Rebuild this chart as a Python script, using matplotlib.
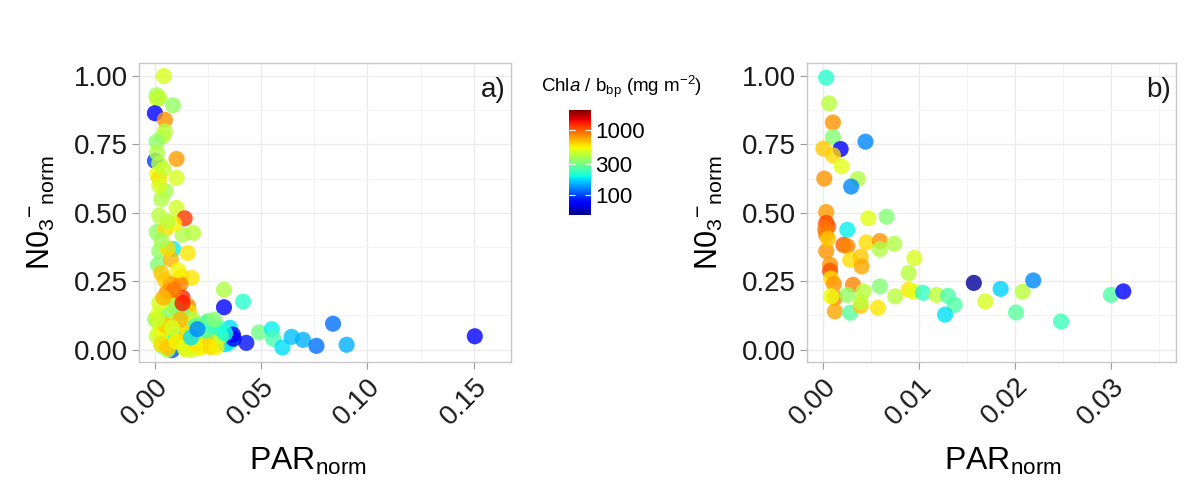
import matplotlib
matplotlib.use('Agg')
import matplotlib.pyplot as plt
from matplotlib.colors import LogNorm
from matplotlib.ticker import MultipleLocator

plt.rcParams['font.family'] = ['Liberation Sans', 'DejaVu Sans']
plt.rcParams['mathtext.fontset'] = 'custom'
plt.rcParams['mathtext.rm'] = 'Liberation Sans'
plt.rcParams['mathtext.it'] = 'Liberation Sans:italic'

# panel a) PAR_norm, NO3_norm, Chla/bbp
par_a = [0.0042, 0.0008, 0.0010, 0.0085, 0.0000, 0.0047, 0.0047, 0.0038, 0.0008, 0.0102,
         0.0000, 0.0020, 0.0010, 0.0020, 0.0102, 0.0050, 0.0030, 0.0102, 0.0020, 0.0140,
         0.0008, 0.0050, 0.0180, 0.0130, 0.0085, 0.0155, 0.0020, 0.0014, 0.0075, 0.0125,
         0.0173, 0.0047, 0.0075, 0.0120, 0.0055, 0.0130, 0.0085, 0.0155, 0.0160, 0.0040,
         0.0000, 0.0015, 0.0065, 0.0090, 0.0008, 0.0020, 0.0050, 0.0120, 0.0085, 0.0020,
         0.0100, 0.0130, 0.0180, 0.0250, 0.0040, 0.0090, 0.0135, 0.0180, 0.0175, 0.0225,
         0.0270, 0.0280, 0.0245, 0.0080, 0.0080, 0.0350, 0.0330, 0.0170, 0.0050, 0.0196,
         0.0243, 0.0280, 0.0353, 0.0370, 0.0367, 0.0430, 0.0325, 0.0325, 0.0415, 0.0490,
         0.0550, 0.0557, 0.0600, 0.0643, 0.0697, 0.0760, 0.0838, 0.0902, 0.1505, 0.0060,
         0.0100, 0.0030, 0.0210, 0.0230, 0.0150, 0.0190, 0.0260, 0.0300, 0.0110, 0.0060,
         0.0030, 0.0060, 0.0100, 0.0140, 0.0190, 0.0220, 0.0260, 0.0290, 0.0310, 0.0150,
         0.0050, 0.0010, 0.0120, 0.0080, 0.0200, 0.0240, 0.0300, 0.0330, 0.0280, 0.0170,
         0.0200, 0.0090, 0.0130, 0.0040, 0.0030, 0.0110, 0.0060, 0.0030, 0.0090, 0.0060,
         0.0020, 0.0040, 0.0010, 0.0020]
no3_a = [1.000, 0.930, 0.915, 0.893, 0.864, 0.840, 0.797, 0.780, 0.760, 0.697,
         0.690, 0.680, 0.640, 0.625, 0.628, 0.580, 0.550, 0.518, 0.490, 0.480,
         0.430, 0.440, 0.427, 0.420, 0.368, 0.353, 0.360, 0.310, 0.330, 0.267,
         0.262, 0.255, 0.240, 0.240, 0.207, 0.190, 0.185, 0.160, 0.140, 0.103,
         0.110, 0.130, 0.130, 0.100, 0.050, 0.070, 0.050, 0.065, 0.160, 0.170,
         0.150, 0.135, 0.110, 0.105, 0.010, 0.005, 0.020, 0.030, 0.000, 0.012,
         0.012, 0.035, 0.060, 0.050, -0.002, 0.025, 0.020, 0.090, 0.080, 0.067,
         0.098, 0.075, 0.080, 0.040, 0.055, 0.025, 0.219, 0.155, 0.176, 0.063,
         0.075, 0.040, 0.008, 0.047, 0.036, 0.014, 0.095, 0.018, 0.049, 0.025,
         0.045, 0.020, 0.005, 0.045, 0.000, 0.085, 0.010, 0.060, 0.030, 0.000,
         0.020, 0.010, 0.030, 0.005, 0.020, 0.040, 0.030, 0.010, 0.050, 0.060,
         0.090, 0.110, 0.110, 0.080, 0.090, 0.070, 0.080, 0.060, 0.110, 0.045,
         0.075, 0.220, 0.170, 0.190, 0.280, 0.290, 0.370, 0.400, 0.460, 0.470,
         0.600, 0.660, 0.720, 0.920]
chl_a = [480, 380, 460, 350, 75, 800, 420, 420, 340, 780,
         100, 420, 520, 600, 480, 380, 400, 460, 420, 1150,
         350, 600, 420, 400, 190, 580, 350, 330, 700, 620,
         580, 650, 750, 850, 800, 1250, 800, 850, 620, 600,
         350, 500, 330, 420, 450, 500, 520, 400, 420, 480,
         350, 320, 400, 320, 330, 400, 230, 500, 430, 520,
         600, 320, 200, 300, 110, 220, 180, 480, 560, 140,
         260, 200, 180, 70, 75, 85, 400, 80, 220, 300,
         190, 250, 180, 160, 150, 120, 120, 150, 80, 450,
         250, 380, 550, 300, 500, 230, 600, 200, 650, 420,
         600, 650, 550, 500, 580, 520, 620, 560, 450, 600,
         650, 450, 700, 480, 300, 250, 230, 200, 330, 180,
         130, 900, 1300, 700, 650, 550, 600, 380, 550, 420,
         480, 450, 400, 420]

# panel b)
par_b = [0.0003, 0.0006, 0.0010, 0.0010, 0.0018, 0.0000, 0.0010, 0.0044, 0.0019, 0.0001,
         0.0036, 0.0029, 0.0003, 0.0003, 0.0005, 0.0025, 0.0047, 0.0066, 0.0003, 0.0021,
         0.0025, 0.0045, 0.0059, 0.0059, 0.0074, 0.0003, 0.0028, 0.0039, 0.0040, 0.0007,
         0.0095, 0.0089, 0.0007, 0.0008, 0.0031, 0.0011, 0.0042, 0.0059, 0.0075, 0.0089,
         0.0094, 0.0104, 0.0118, 0.0130, 0.0137, 0.0127, 0.0157, 0.0169, 0.0185, 0.0208,
         0.0219, 0.0201, 0.0248, 0.0300, 0.0313, 0.0012, 0.0012, 0.0025, 0.0028, 0.0039,
         0.0039, 0.0057, 0.0008, 0.0002, 0.0005]
no3_b = [0.994, 0.900, 0.830, 0.777, 0.733, 0.735, 0.710, 0.760, 0.670, 0.625,
         0.624, 0.596, 0.503, 0.463, 0.450, 0.438, 0.480, 0.486, 0.420, 0.383,
         0.378, 0.392, 0.397, 0.367, 0.387, 0.360, 0.328, 0.340, 0.304, 0.310,
         0.335, 0.280, 0.288, 0.260, 0.237, 0.240, 0.213, 0.231, 0.195, 0.219,
         0.212, 0.208, 0.200, 0.197, 0.164, 0.128, 0.244, 0.176, 0.222, 0.212,
         0.253, 0.136, 0.103, 0.200, 0.213, 0.190, 0.140, 0.200, 0.135, 0.160,
         0.175, 0.153, 0.195, 0.440, 0.405]
chl_b = [220, 420, 800, 330, 75, 650, 620, 130, 500, 800,
         400, 130, 780, 1100, 1000, 190, 500, 330, 850, 1000,
         850, 600, 800, 400, 400, 800, 600, 650, 750, 800,
         480, 420, 1050, 600, 850, 800, 420, 330, 420, 580,
         500, 230, 430, 260, 260, 180, 55, 480, 170, 420,
         130, 270, 240, 260, 80, 850, 750, 350, 270, 650,
         420, 580, 520, 900, 650]

cb_ticks = [100, 300, 1000]
norm = LogNorm(vmin=50, vmax=2000)
cmap = plt.get_cmap('jet')

fig = plt.figure(figsize=(11.96, 4.9), dpi=100)
ax_a = fig.add_axes([0.1162, 0.2612, 0.311, 0.610])
ax_b = fig.add_axes([0.6748, 0.2612, 0.3085, 0.610])


def style(ax, xmaj, xlim, tag, xlab_x):
    ax.set_facecolor('white')
    ax.set_xlim(*xlim)
    ax.set_ylim(-0.045, 1.047)
    ax.xaxis.set_minor_locator(MultipleLocator(xmaj / 2))
    ax.yaxis.set_minor_locator(MultipleLocator(0.125))
    ax.set_yticks([0, 0.25, 0.5, 0.75, 1.0])
    ax.set_yticklabels(['0.00', '0.25', '0.50', '0.75', '1.00'])
    ax.grid(which='major', color='#ebebeb', linewidth=1.0)
    ax.grid(which='minor', color='#f4f4f4', linewidth=0.7)
    ax.set_axisbelow(True)
    for s in ax.spines.values():
        s.set_color('#c8c8c8')
        s.set_linewidth(1.0)
    ax.tick_params(which='major', length=5, color='#9a9a9a', labelsize=20,
                   labelcolor='#1a1a1a', pad=3)
    ax.tick_params(which='minor', length=0)
    ax.set_xlabel(r'PAR$_{\mathrm{norm}}$', fontsize=23)
    ax.xaxis.set_label_coords(xlab_x, -0.28)
    ax.set_ylabel(r'N0$_3$$^{\mathrm{-}}$$_{\mathrm{norm}}$', fontsize=22, labelpad=12)
    ax.text(0.985, 0.955, tag, transform=ax.transAxes, ha='right', va='top',
            fontsize=20, color='#1a1a1a')


sc = ax_a.scatter(par_a, no3_a, c=chl_a, cmap=cmap, norm=norm, s=135,
                  alpha=0.8, linewidths=0)
ax_b.scatter(par_b, no3_b, c=chl_b, cmap=cmap, norm=norm, s=135,
             alpha=0.8, linewidths=0)

ax_a.set_xticks([0, 0.05, 0.10, 0.15])
ax_a.set_xticklabels(['0.00', '0.05', '0.10', '0.15'], rotation=45, ha='right',
                     va='top', rotation_mode='anchor')
style(ax_a, 0.05, (-0.0075, 0.1675), 'a)', 0.455)
ax_b.set_xticks([0, 0.01, 0.02, 0.03])
ax_b.set_xticklabels(['0.00', '0.01', '0.02', '0.03'], rotation=45, ha='right',
                     va='top', rotation_mode='anchor')
style(ax_b, 0.01, (-0.0017, 0.0368), 'b)', 0.53)

cax = fig.add_axes([0.4757, 0.561, 0.0184, 0.214])
cb = fig.colorbar(sc, cax=cax, ticks=cb_ticks)
cb.solids.set_alpha(1)
cb.outline.set_visible(False)
cb.ax.set_yticklabels(['100', '300', '1000'])
cb.ax.yaxis.set_ticks_position('both')
cb.ax.tick_params(which='major', direction='in', length=4, color='white',
                  labelsize=16, pad=3, left=True, right=True,
                  labelleft=False, labelright=True)
cb.ax.tick_params(which='minor', length=0)
fig.text(0.520, 0.822, 'Chl$\\mathit{a}$ / b$_{\\mathrm{bp}}$ (mg m$^{\\mathrm{-2}}$)',
         ha='center', va='center', fontsize=13.5)

fig.savefig('out.png', dpi=100)
